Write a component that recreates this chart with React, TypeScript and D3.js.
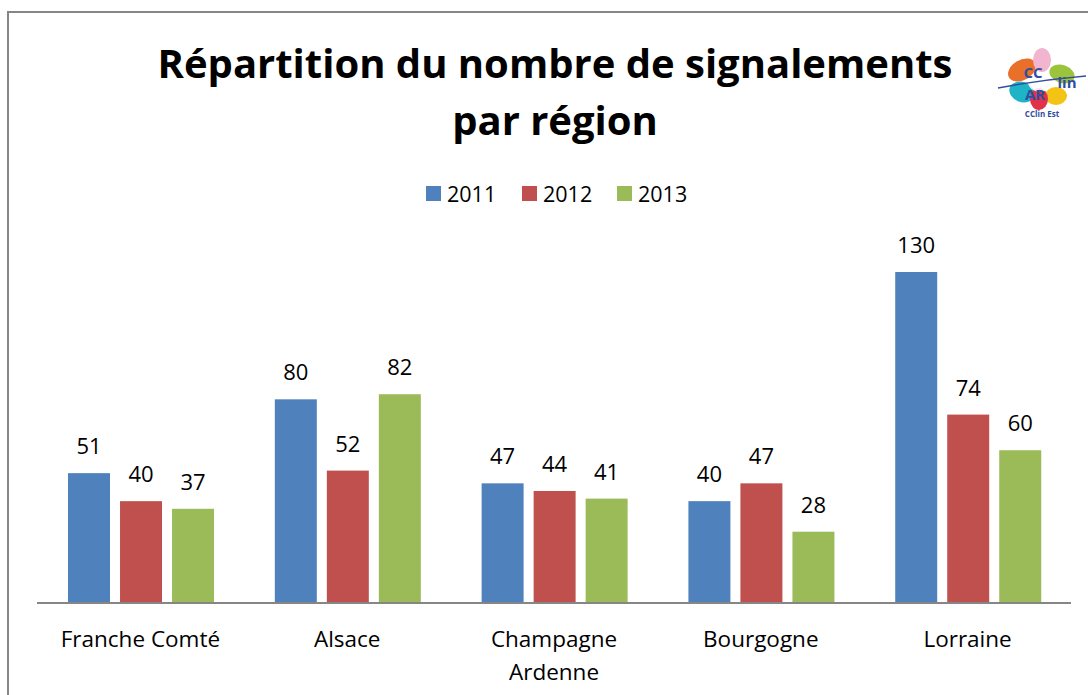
import React from "react";
import * as d3 from "d3";

const categories = ["Franche Comté", "Alsace", "Champagne Ardenne", "Bourgogne", "Lorraine"];
const categoryLines = [["Franche Comté"], ["Alsace"], ["Champagne", "Ardenne"], ["Bourgogne"], ["Lorraine"]];
const seriesNames = ["2011", "2012", "2013"];
const values2011 = [51, 80, 47, 40, 130];
const values2012 = [40, 52, 44, 47, 74];
const values2013 = [37, 82, 41, 28, 60];
const colors = ["#4F81BD", "#C0504D", "#9BBB59"];

const W = 1088;
const H = 695;
const FONT = "'Open Sans', Lato, sans-serif";

export default function App() {
  const series = [values2011, values2012, values2013];
  const plotLeft = 37;
  const plotRight = 1071;
  const baseY = 603;
  const x = d3.scaleBand<string>().domain(categories).range([plotLeft, plotRight]).paddingInner(0).paddingOuter(0);
  const y = d3.scaleLinear().domain([0, 140]).range([baseY, baseY - 140 * 2.546]);
  const bw = x.bandwidth();
  const barW = bw * 0.203;
  const step = bw * 0.2515;
  const offset = bw * 0.15;

  return (
    <svg width={W} height={H} style={{ position: "absolute", left: 0, top: 0 }}>
      <rect x={0} y={0} width={W} height={H} fill="#fff" />
      <path d={`M8,${H} L8,12 L${W},12`} fill="none" stroke="#868686" strokeWidth={2} />
      <text x={555} y={78} textAnchor="middle" fontFamily={FONT} fontWeight="bold" fontSize={40} fill="#000">
        Répartition du nombre de signalements
      </text>
      <text x={555} y={135} textAnchor="middle" fontFamily={FONT} fontWeight="bold" fontSize={40} fill="#000">
        par région
      </text>
      {/* legend */}
      {seriesNames.map((s, i) => {
        const lx = [426, 522, 617][i];
        return (
          <g key={s}>
            <rect x={lx} y={186} width={15} height={15} fill={colors[i]} />
            <text x={lx + 21} y={201.5} fontFamily={FONT} fontSize={21.5} fill="#000">{s}</text>
          </g>
        );
      })}
      {/* bars */}
      {categories.map((c, ci) => (
        <g key={c}>
          {series.map((vals, si) => {
            const bx = (x(c) as number) + offset + si * step;
            const v = vals[ci];
            return (
              <g key={si}>
                <rect x={bx} y={y(v)} width={barW} height={baseY - y(v)} fill={colors[si]} />
                <text x={bx + barW / 2} y={y(v) - 19} textAnchor="middle" fontFamily={FONT} fontSize={22} fill="#000">
                  {v}
                </text>
              </g>
            );
          })}
          {categoryLines[ci].map((ln, li) => (
            <text key={li} x={(x(c) as number) + bw / 2} y={647 + li * 33} textAnchor="middle" fontFamily={FONT} fontSize={22.5} fill="#000">
              {ln}
            </text>
          ))}
        </g>
      ))}
      <line x1={plotLeft} x2={plotRight} y1={baseY} y2={baseY} stroke="#868686" strokeWidth={2} />
      {/* logo */}
      <g transform="translate(1040,84)">
        <ellipse cx={-18} cy={-14} rx={15} ry={10} fill="#E8702A" transform="rotate(-30,-18,-14)" />
        <ellipse cx={2} cy={-24} rx={9} ry={12} fill="#F2B5CF" />
        <ellipse cx={22} cy={-10} rx={13} ry={9} fill="#9BC33C" transform="rotate(20,22,-10)" />
        <ellipse cx={-18} cy={8} rx={13} ry={10} fill="#1FB3C8" transform="rotate(20,-18,8)" />
        <ellipse cx={16} cy={12} rx={11} ry={9} fill="#F3C316" />
        <ellipse cx={-1} cy={15} rx={9} ry={11} fill="#E0334B" />
        <ellipse cx={0} cy={-2} rx={12} ry={10} fill="#fff" opacity={0.85} />
        <path d="M-42,4 Q0,-4 46,-8" stroke="#2F4E9E" strokeWidth={1.5} fill="none" />
        <text x={-7} y={-6} fontFamily={FONT} fontWeight="bold" fontSize={15} fill="#2F4E9E" textAnchor="middle">CC</text>
        <text x={-5} y={16} fontFamily={FONT} fontWeight="bold" fontSize={15} fill="#2F4E9E" textAnchor="middle">AR</text>
        <text x={27} y={4} fontFamily={FONT} fontWeight="bold" fontSize={15} fill="#2F4E9E" textAnchor="middle">lin</text>
        <text x={2} y={33} fontFamily={FONT} fontWeight="bold" fontSize={8} fill="#2F4E9E" textAnchor="middle">CClin Est</text>
      </g>
    </svg>
  );
}
